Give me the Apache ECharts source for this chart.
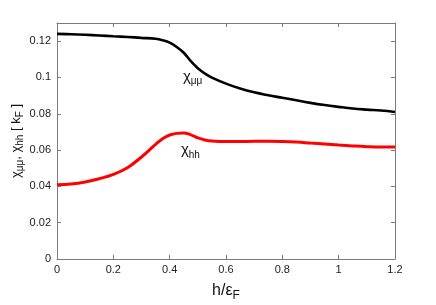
<!DOCTYPE html>
<html><head><meta charset="utf-8">
<script src="https://cdn.jsdelivr.net/npm/echarts@6/dist/echarts.min.js"></script>
<style>html,body{margin:0;padding:0;background:#fff}#c{width:436px;height:305px}</style>
</head><body><div id="c"></div>
<script>
// h/eps_F values and susceptibilities
var xMuMu = [0, 0.05, 0.1, 0.15, 0.2, 0.25, 0.3, 0.35, 0.375, 0.4, 0.425, 0.45, 0.475, 0.5, 0.525, 0.55, 0.6, 0.65, 0.7, 0.75, 0.8, 0.85, 0.9, 0.95, 1.0, 1.05, 1.1, 1.15, 1.2];
var chiMuMu = [0.124, 0.1238, 0.1235, 0.1231, 0.1227, 0.1223, 0.1218, 0.1213, 0.1205, 0.1192, 0.1168, 0.1136, 0.109, 0.1051, 0.1022, 0.0999, 0.0966, 0.0939, 0.0918, 0.0902, 0.0888, 0.0874, 0.0860, 0.0848, 0.0838, 0.0829, 0.0823, 0.0818, 0.081];
var xHH = [0, 0.05, 0.1, 0.15, 0.2, 0.25, 0.3, 0.35, 0.375, 0.4, 0.425, 0.45, 0.475, 0.5, 0.525, 0.55, 0.6, 0.65, 0.7, 0.75, 0.8, 0.85, 0.9, 0.95, 1.0, 1.05, 1.1, 1.15, 1.2];
var chiHH = [0.0409, 0.0413, 0.0424, 0.0442, 0.0466, 0.0503, 0.0562, 0.0632, 0.0663, 0.0683, 0.0692, 0.0694, 0.0684, 0.0667, 0.0656, 0.065, 0.0647, 0.0647, 0.0648, 0.0648, 0.0647, 0.0644, 0.0639, 0.0634, 0.0628, 0.0623, 0.0619, 0.0617, 0.0617];
var xTicks = {min: 0, max: 1.2, interval: 0.2};
var yTicks = {min: 0, max: 0.13, interval: 0.02};

function pairs(xs, ys){ return xs.map(function(x,i){ return [x, ys[i]]; }); }

var FONT = 'Liberation Sans, Arial, sans-serif';
var axisGray = '#7a7a7a';
var sub = function(fs, pad){ return {fontSize: fs, fontFamily: FONT, color: '#111', padding: [pad,0,0,0]}; };

var chart = echarts.init(document.getElementById('c'), null, {renderer: 'canvas'});
chart.setOption({
  animation: false,
  backgroundColor: '#fff',
  grid: {left: 57, right: 41, top: 23, bottom: 46, show: false, containLabel: false, outerBoundsMode: 'none'},
  xAxis: [{
    type: 'value', min: xTicks.min, max: xTicks.max, interval: xTicks.interval,
    position: 'bottom',
    axisLine: {show: true, onZero: false, lineStyle: {color: axisGray, width: 1}},
    axisTick: {show: true, inside: true, length: 4, lineStyle: {color: axisGray}},
    splitLine: {show: false},
    axisLabel: {color: '#222', fontSize: 11, fontFamily: FONT, margin: 5},
    name: '{a|h/ε}{s|F}', nameLocation: 'middle', nameGap: 21, nameMoveOverlap: false,
    nameTextStyle: {rich: {a: {fontSize: 16, fontFamily: FONT, color: '#111'}, s: sub(12, 10)}}
  }, {
    type: 'value', min: xTicks.min, max: xTicks.max, interval: xTicks.interval,
    position: 'top',
    axisLine: {show: true, onZero: false, lineStyle: {color: axisGray, width: 1}},
    axisTick: {show: true, inside: true, length: 4, lineStyle: {color: axisGray}},
    splitLine: {show: false}, axisLabel: {show: false}
  }],
  yAxis: [{
    type: 'value', min: yTicks.min, max: yTicks.max, interval: yTicks.interval,
    position: 'left',
    axisLine: {show: true, onZero: false, lineStyle: {color: axisGray, width: 1}},
    axisTick: {show: true, inside: true, length: 4, lineStyle: {color: axisGray}},
    splitLine: {show: false},
    axisLabel: {color: '#222', fontSize: 11, fontFamily: FONT, margin: 6, showMaxLabel: false},
    name: '{a|χ}{s|μμ}{a|, χ}{s|hh}{a| [ k}{s|F}{a| ]}', nameLocation: 'middle', nameGap: 32, nameRotate: 90, nameMoveOverlap: false,
    nameTextStyle: {rich: {a: {fontSize: 13, fontFamily: FONT, color: '#111'}, s: sub(10, 8)}}
  }, {
    type: 'value', min: yTicks.min, max: yTicks.max, interval: yTicks.interval,
    position: 'right',
    axisLine: {show: true, onZero: false, lineStyle: {color: axisGray, width: 1}},
    axisTick: {show: true, inside: true, length: 4, lineStyle: {color: axisGray}},
    splitLine: {show: false}, axisLabel: {show: false}
  }],
  series: [{
    type: 'line', name: 'chi_mumu', data: pairs(xMuMu, chiMuMu), smooth: 0.4, showSymbol: false,
    lineStyle: {color: '#000', width: 2.6}, itemStyle: {color: '#000'},
    markPoint: {symbol: 'circle', symbolSize: 0, silent: true,
      label: {show: true, position: 'right', distance: 0, formatter: '{a|χ}{s|μμ}',
        rich: {a: {fontSize: 15, fontFamily: FONT, color: '#111'}, s: sub(10, 10)}},
      data: [{coord: [0.447, 0.1004]}]}
  }, {
    type: 'line', name: 'chi_hh', data: pairs(xHH, chiHH), smooth: 0.4, showSymbol: false,
    lineStyle: {color: '#ff0000', width: 3}, itemStyle: {color: '#ff0000'},
    markPoint: {symbol: 'circle', symbolSize: 0, silent: true,
      label: {show: true, position: 'right', distance: 0, formatter: '{a|χ}{s|hh}',
        rich: {a: {fontSize: 15, fontFamily: FONT, color: '#111'}, s: sub(10, 10)}},
      data: [{coord: [0.44, 0.0599]}]}
  }]
});
</script></body></html>
